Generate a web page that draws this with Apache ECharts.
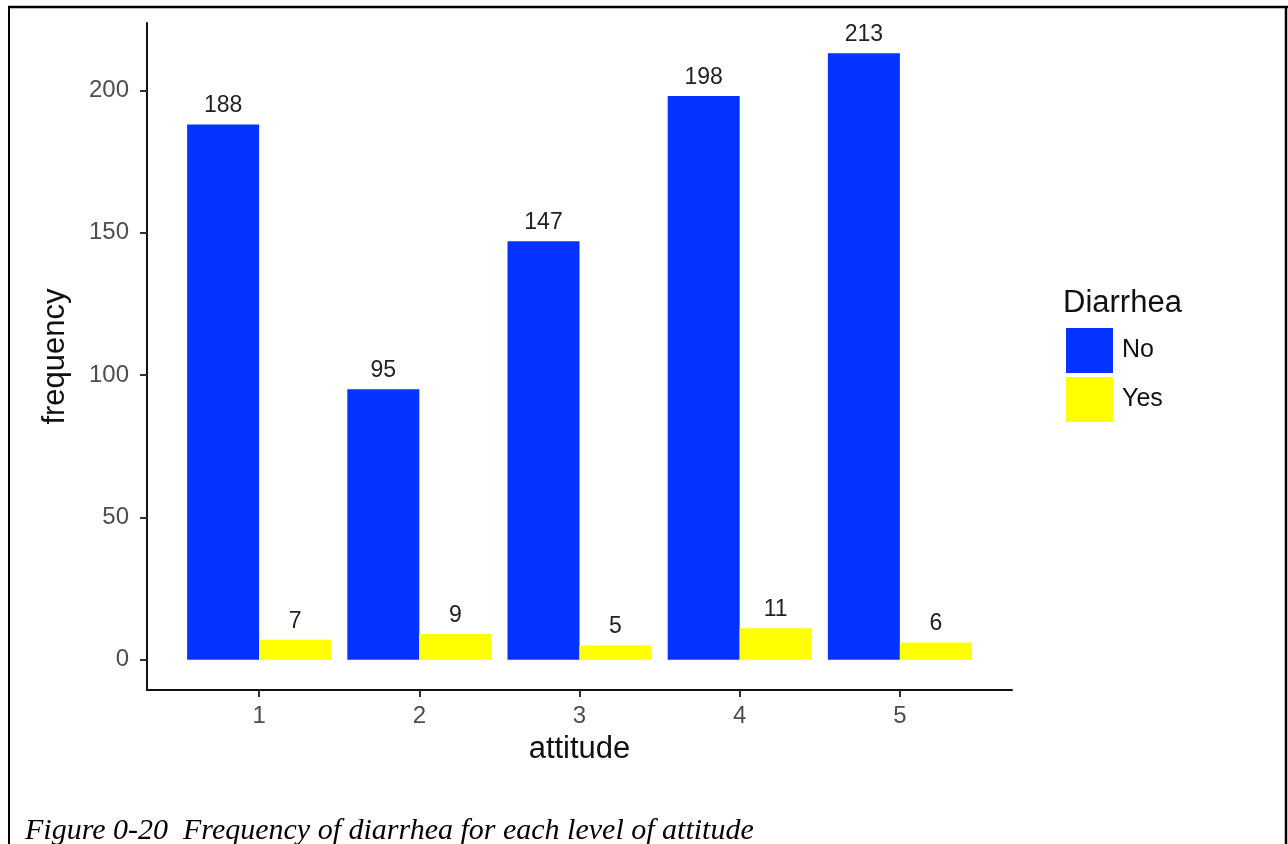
<!DOCTYPE html>
<html>
<head>
<meta charset="utf-8">
<script src="https://cdn.jsdelivr.net/npm/echarts@6/dist/echarts.min.js"></script>
<style>
  html, body { margin: 0; padding: 0; background: #fff; }
  #chart { width: 1288px; height: 844px; }
</style>
</head>
<body>
<div id="chart"></div>
<script>
// ---- data ----
const categories = ['1', '2', '3', '4', '5'];
const noValues = [188, 95, 147, 198, 213];
const yesValues = [7, 9, 5, 11, 6];
const yTicks = [0, 50, 100, 150, 200];
const seriesNames = ['No', 'Yes'];
const legendTitle = 'Diarrhea';
const xTitle = 'attitude';
const yTitle = 'frequency';
const caption = 'Figure 0-20  Frequency of diarrhea for each level of attitude';

// ---- build ----
const xPositions = categories.map((c, i) => i + 1);
const toPairs = vals => vals.map((v, i) => [xPositions[i], v]);
const maxVal = Math.max(...noValues, ...yesValues);
const pad = maxVal * 0.05;

const chart = echarts.init(document.getElementById('chart'));
const fontFamily = '"Liberation Sans", Arial, sans-serif';

const labelStyle = {
  show: true,
  position: 'top',
  distance: 7,
  fontSize: 23,
  color: '#222',
  fontFamily: fontFamily
};

chart.setOption({
  animation: false,
  backgroundColor: '#ffffff',
  textStyle: { fontFamily: fontFamily },
  title: {
    text: legendTitle,
    left: 1063,
    top: 288,
    padding: 0,
    textStyle: { fontSize: 31, fontWeight: 'normal', color: '#111', fontFamily: fontFamily }
  },
  legend: {
    orient: 'vertical',
    left: 1066,
    top: 328,
    padding: 0,
    itemWidth: 47,
    itemHeight: 45,
    itemGap: 4,
    icon: 'rect',
    data: seriesNames,
    textStyle: { fontSize: 25, color: '#111', fontFamily: fontFamily, padding: [0, 0, 0, 4] }
  },
  grid: { left: 147, right: 276, top: 23, bottom: 154, containLabel: false },
  xAxis: {
    type: 'value',
    min: 0.3,
    max: 5.7,
    name: xTitle,
    nameLocation: 'middle',
    nameGap: 44,
    nameTextStyle: { fontSize: 31, color: '#111', fontFamily: fontFamily },
    axisLine: { show: true, onZero: false, lineStyle: { color: '#111', width: 2 } },
    axisTick: { show: true, length: 7, customValues: xPositions, lineStyle: { color: '#333', width: 2 } },
    axisLabel: {
      customValues: xPositions,
      formatter: v => categories[Math.round(v) - 1] || '',
      fontSize: 24,
      color: '#4d4d4d',
      margin: 14,
      fontFamily: fontFamily
    },
    splitLine: { show: false }
  },
  yAxis: {
    type: 'value',
    min: -pad,
    max: maxVal + pad,
    name: yTitle,
    nameLocation: 'middle',
    nameRotate: 90,
    nameGap: 76,
    nameTextStyle: { fontSize: 31, color: '#111', fontFamily: fontFamily },
    axisLine: { show: true, onZero: false, lineStyle: { color: '#111', width: 2 } },
    axisTick: { show: true, length: 7, customValues: yTicks, lineStyle: { color: '#333', width: 2 } },
    axisLabel: {
      customValues: yTicks,
      fontSize: 24,
      color: '#4d4d4d',
      margin: 18,
      fontFamily: fontFamily
    },
    splitLine: { show: false }
  },
  series: [
    {
      name: seriesNames[0],
      type: 'bar',
      data: toPairs(noValues),
      barWidth: 72,
      barGap: '0%',
      itemStyle: { color: '#0433FF' },
      label: labelStyle
    },
    {
      name: seriesNames[1],
      type: 'bar',
      data: toPairs(yesValues),
      barWidth: 72,
      barGap: '0%',
      itemStyle: { color: '#FFFF00' },
      label: labelStyle
    }
  ],
  graphic: [
    { type: 'line', shape: { x1: 8, y1: 7, x2: 1288, y2: 7 }, style: { stroke: '#000', lineWidth: 2.5 }, silent: true },
    { type: 'line', shape: { x1: 9, y1: 6, x2: 9, y2: 844 }, style: { stroke: '#000', lineWidth: 2 }, silent: true },
    { type: 'line', shape: { x1: 1286, y1: 6, x2: 1286, y2: 844 }, style: { stroke: '#000', lineWidth: 2.5 }, silent: true },
    {
      type: 'text',
      left: 25,
      top: 816,
      style: {
        text: caption,
        font: 'italic 30px "Liberation Serif", "Times New Roman", serif',
        fill: '#000'
      },
      silent: true
    }
  ]
});
</script>
</body>
</html>
